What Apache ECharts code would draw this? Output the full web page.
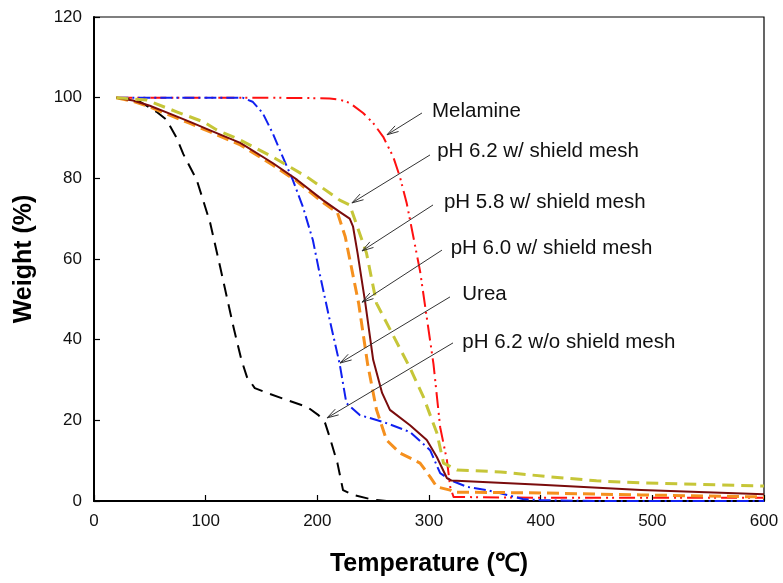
<!DOCTYPE html>
<html>
<head>
    <meta charset="UTF-8">
    <title>TGA</title>
    <script src="https://cdn.jsdelivr.net/npm/echarts@6/dist/echarts.min.js"></script>
    <style>
        html, body { margin: 0; padding: 0; background: #fff; }
    </style>
</head>
<body>
<div id="main" style="width: 783px;height:583px;"></div>
<script type="text/javascript">
    // curves: temperature (C) and weight (%)
    var woMeshT = [20, 30, 41, 56, 65, 74, 80, 92, 104, 113, 125, 132, 137, 144, 155, 173, 191, 201, 207, 211, 218, 223, 232, 250, 262];
    var woMeshW = [100, 99.7, 99, 96.5, 94.5, 90, 86, 79.6, 69, 58, 43, 35, 30.7, 28, 26.8, 25, 23.3, 21.3, 19.3, 15.9, 9.4, 2.7, 1.5, 0.3, 0];

    var melamineT = [20, 100, 150, 190, 211, 220, 229, 241, 250, 259, 268, 274, 280, 283, 292, 304, 310, 316, 319, 322, 400, 500, 600];
    var melamineW = [100, 100, 100, 99.9, 99.8, 99.5, 98.7, 96.2, 93.7, 90.3, 85.3, 80.3, 73.9, 69.7, 57, 34, 18.3, 10.2, 3.5, 1, 0.8, 0.8, 0.8];

    var ureaT = [20, 100, 133, 142, 151, 160, 169, 178, 187, 196, 202, 211, 220, 226, 238, 259, 283, 301, 310, 319, 334, 352, 370, 384, 400, 450, 600];
    var ureaW = [100, 100, 100, 99, 96.2, 91.2, 85.3, 79.6, 73, 64.7, 56.5, 45, 34, 24.3, 21.3, 19.6, 17.1, 12.6, 6.9, 5.2, 3.5, 2.7, 1.5, 0.5, 0.2, 0, 0];

    var ph58T = [20, 35, 50, 70, 86, 104, 131, 160, 182, 205, 220, 229, 232, 236, 243, 250, 258, 265, 283, 298, 307, 316, 320, 400, 490, 600];
    var ph58W = [100, 99.3, 98, 95.8, 94, 91.9, 88.8, 83.8, 79.6, 74.6, 71.7, 70, 68, 61.5, 49, 35, 26.8, 22.6, 18.8, 15.1, 10.9, 5.7, 5.1, 4, 2.7, 1.7];

    var ph60T = [20, 35, 50, 70, 86, 104, 131, 160, 182, 205, 218, 225, 237, 245, 253, 262, 274, 292, 301, 307, 319, 322, 400, 490, 600];
    var ph60W = [100, 99.1, 97.7, 95.4, 93.6, 91.5, 88.3, 83.3, 79.2, 74, 71.5, 65.5, 49, 34, 22.6, 15.1, 11.9, 9.4, 6, 3.5, 2.7, 2.2, 2.0, 1.5, 1.0];

    var ph62T = [20, 47, 74, 98, 110, 131, 160, 191, 220, 229, 244, 253, 283, 295, 307, 313, 325, 364, 408, 450, 489, 600];
    var ph62W = [100, 99.4, 96.5, 94, 92, 89.5, 85.3, 80.3, 74.6, 73.4, 61.5, 49, 33, 25.8, 16.9, 9.4, 7.7, 7.2, 6, 5, 4.5, 3.7];

    // labels with their arrows
    var annoText = ['Melamine', 'pH 6.2 w/ shield mesh', 'pH 5.8 w/ shield mesh', 'pH 6.0 w/ shield mesh', 'Urea', 'pH 6.2 w/o shield mesh'];
    var annoTextT = [302.7, 307.3, 313.4, 319.4, 329.8, 329.8];
    var annoTextW = [96.5, 86.6, 74.1, 62.7, 51.3, 39.3];
    var arrowFromT = [293.7, 300.9, 303.6, 311.6, 318.8, 321.5];
    var arrowFromW = [96.2, 85.8, 73.4, 62.2, 50.6, 39.2];
    var arrowToT = [262.4, 231, 240, 240, 220.3, 208.7];
    var arrowToW = [90.8, 73.9, 62, 49.3, 34.2, 20.6];

    var xTicks = [0, 100, 200, 300, 400, 500, 600];
    var yTicks = [0, 20, 40, 60, 80, 100, 120];

    function zip(a, b) {
        var out = [];
        for (var i = 0; i < a.length; i++) out.push([a[i], b[i]]);
        return out;
    }

    var annoData = [];
    for (var i = 0; i < annoText.length; i++) {
        annoData.push([arrowFromT[i], arrowFromW[i], arrowToT[i], arrowToW[i], annoTextT[i], annoTextW[i]]);
    }

    var font = '"Liberation Sans", Arial, sans-serif';

    function curve(name, data, color, width, dash) {
        return {
            name: name,
            type: 'line',
            data: data,
            symbol: 'none',
            smooth: false,
            animation: false,
            lineStyle: { color: color, width: width, type: dash, join: 'round' }
        };
    }

    var myChart = echarts.init(document.getElementById('main'));
    var option = {
        backgroundColor: '#fff',
        animation: false,
        grid: {
            left: 94, right: 19, top: 17, bottom: 82,
            show: true, borderColor: '#000', borderWidth: 1.2
        },
        xAxis: {
            type: 'value',
            min: xTicks[0], max: xTicks[xTicks.length - 1], interval: 100,
            name: 'Temperature (℃)',
            nameLocation: 'middle',
            nameGap: 51,
            nameTextStyle: { fontSize: 25, fontWeight: 'bold', color: '#000', fontFamily: font },
            axisLine: { lineStyle: { color: '#000', width: 2 } },
            axisTick: { inside: true, length: 6, lineStyle: { color: '#000', width: 1.2 } },
            axisLabel: { fontSize: 17, color: '#111', margin: 12, fontFamily: font },
            splitLine: { show: false }
        },
        yAxis: {
            type: 'value',
            min: yTicks[0], max: yTicks[yTicks.length - 1], interval: 20,
            name: 'Weight (%)',
            nameLocation: 'middle',
            nameGap: 57,
            nameTextStyle: { fontSize: 25, fontWeight: 'bold', color: '#000', fontFamily: font },
            axisLine: { show: true, lineStyle: { color: '#000', width: 2 } },
            axisTick: { show: true, inside: true, length: 6, lineStyle: { color: '#000', width: 1.2 } },
            axisLabel: { fontSize: 17, color: '#111', margin: 12, fontFamily: font },
            splitLine: { show: false }
        },
        series: [
            curve('Melamine', zip(melamineT, melamineW), '#ff1010', 2, [16, 5, 2, 4, 2, 5]),
            curve('Urea', zip(ureaT, ureaW), '#1020f0', 2, [12, 4, 2, 4]),
            curve('pH 6.2 w/o shield mesh', zip(woMeshT, woMeshW), '#000', 2, [13, 8]),
            curve('pH 6.0 w/ shield mesh', zip(ph60T, ph60W), '#f5901e', 3, [12, 6]),
            curve('pH 5.8 w/ shield mesh', zip(ph58T, ph58W), '#7a0c0c', 2, 'solid'),
            curve('pH 6.2 w/ shield mesh', zip(ph62T, ph62W), '#c6c638', 3, [12, 7]),
            {
                type: 'custom',
                name: 'labels',
                data: annoData,
                encode: { x: [0, 2, 4], y: [1, 3, 5] },
                clip: false,
                silent: true,
                z: 10,
                renderItem: function (params, api) {
                    var p0 = api.coord([api.value(0), api.value(1)]);
                    var p1 = api.coord([api.value(2), api.value(3)]);
                    var pt = api.coord([api.value(4), api.value(5)]);
                    var ang = Math.atan2(p1[1] - p0[1], p1[0] - p0[0]);
                    var h = 12, s = 0.28;
                    var a1 = [p1[0] - h * Math.cos(ang - s), p1[1] - h * Math.sin(ang - s)];
                    var a2 = [p1[0] - h * Math.cos(ang + s), p1[1] - h * Math.sin(ang + s)];
                    return {
                        type: 'group',
                        children: [
                            { type: 'line', shape: { x1: p0[0], y1: p0[1], x2: p1[0], y2: p1[1] },
                              style: { stroke: '#333', lineWidth: 1 } },
                            { type: 'polyline', shape: { points: [a1, p1, a2] },
                              style: { stroke: '#333', fill: null, lineWidth: 1 } },
                            { type: 'text', x: pt[0], y: pt[1],
                              style: { text: annoText[params.dataIndex], fill: '#111', font: '20.5px ' + font,
                                       align: 'left', verticalAlign: 'middle' } }
                        ]
                    };
                }
            }
        ]
    };
    myChart.setOption(option);
</script>
</body>
</html>
